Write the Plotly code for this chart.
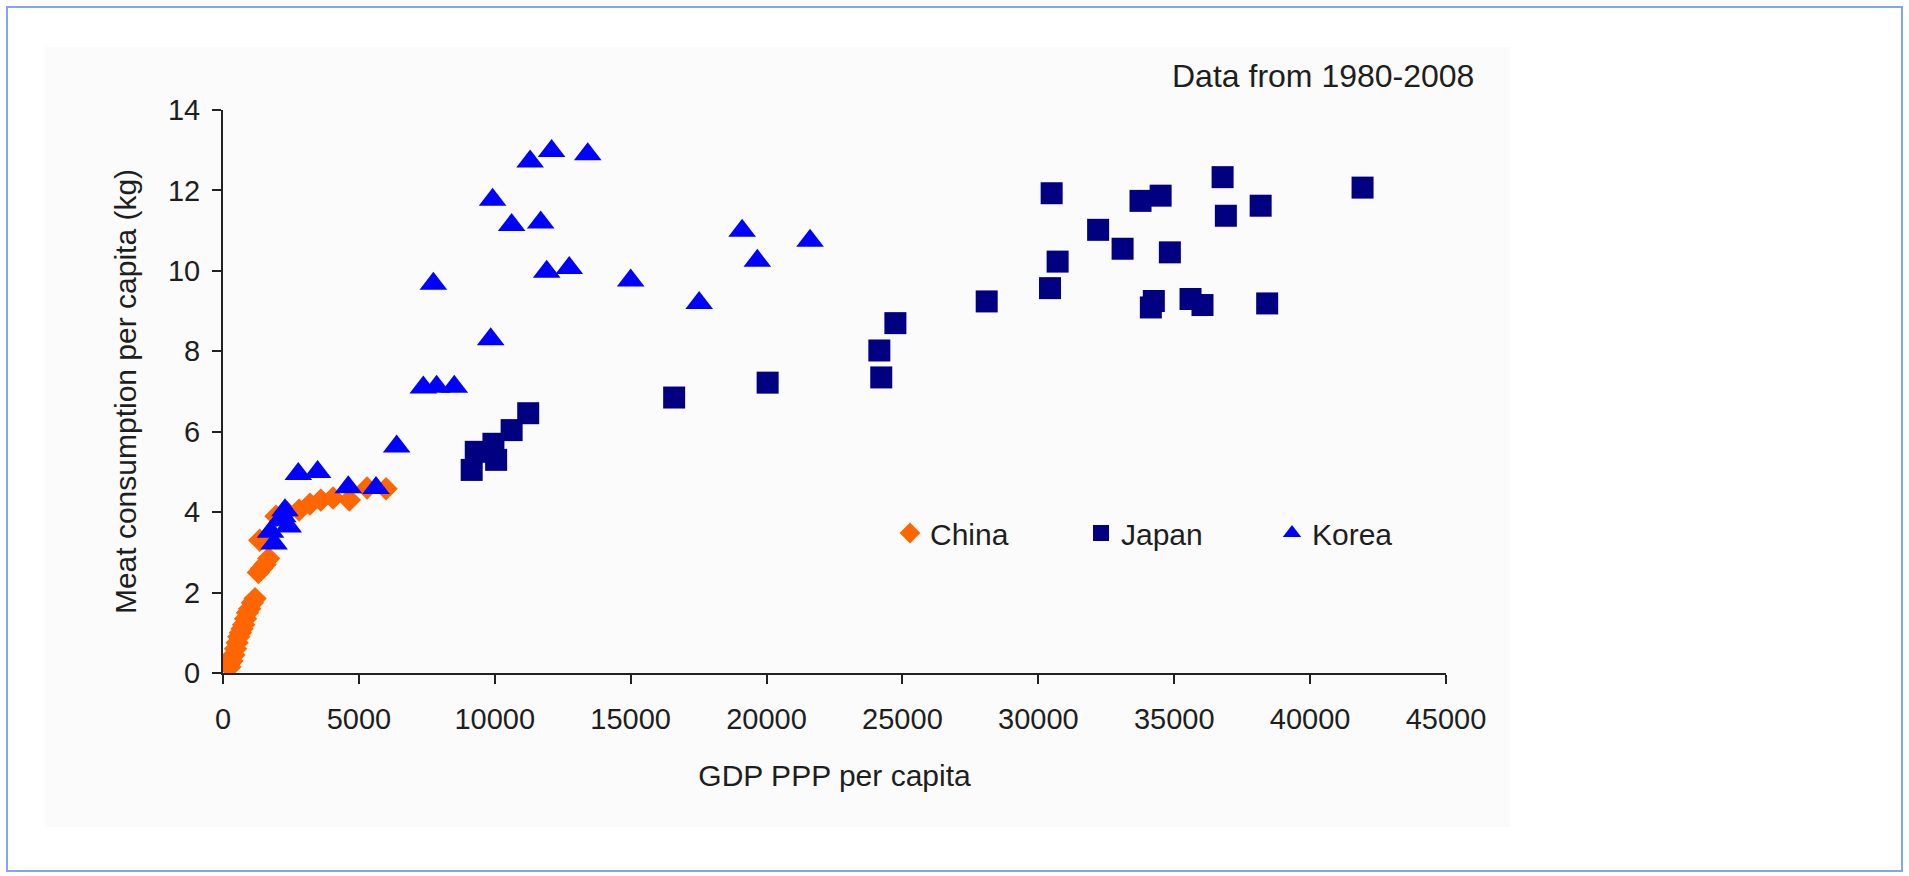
import plotly.graph_objects as go

# ---- data ----
china_gdp = [150, 250, 330, 400, 460, 520, 580, 640, 700, 760, 830, 900, 980, 1080, 1180,
             1300, 1420, 1550, 1680, 1350, 1950, 2350, 2800, 3200, 3600, 4050, 4650, 5300, 6000]
china_meat = [0.25, 0.15, 0.3, 0.45, 0.6, 0.75, 0.9, 1.0, 1.1, 1.2, 1.35, 1.5, 1.6, 1.75, 1.85,
              2.5, 2.6, 2.7, 2.85, 3.3, 3.9, 4.0, 4.05, 4.2, 4.3, 4.35, 4.3, 4.6, 4.58]

japan_gdp = [9150, 9300, 9950, 10050, 10620, 11230, 16600, 20040, 24150, 24220, 24740, 28100,
             30430, 30490, 30710, 32200, 33100, 33760, 34500, 34840, 34140, 34250, 35600, 36040,
             36780, 36900, 38180, 38420, 41930]
japan_meat = [5.05, 5.5, 5.7, 5.3, 6.04, 6.46, 6.85, 7.22, 8.02, 7.35, 8.7, 9.24,
              9.57, 11.93, 10.23, 11.02, 10.55, 11.74, 11.87, 10.46, 9.09, 9.25, 9.3, 9.15,
              12.33, 11.37, 11.62, 9.19, 12.07]

korea_gdp = [1750, 1880, 2100, 2280, 2400, 2200, 2770, 3480, 4610, 5630, 6390, 7370, 7860, 8510,
             7740, 9850, 9920, 10620, 11690, 11300, 12090, 13420, 11910, 12740, 15000, 17520,
             19100, 19660, 21600]
korea_meat = [3.51, 3.22, 3.8, 4.05, 3.64, 3.9, 4.95, 5.0, 4.62, 4.6, 5.63, 7.1, 7.12, 7.12,
              9.68, 8.3, 11.77, 11.14, 11.2, 12.72, 12.98, 12.9, 9.98, 10.07, 9.76, 9.2,
              11.0, 10.25, 10.75]

x_ticks = [0, 5000, 10000, 15000, 20000, 25000, 30000, 35000, 40000, 45000]
y_ticks = [0, 2, 4, 6, 8, 10, 12, 14]

x_title = "GDP PPP per capita"
y_title = "Meat consumption per capita (kg)"
note_text = "Data from 1980-2008"

# ---- layout geometry (pixels) ----
W, H = 1909, 876
L, R, T, B = 223, 1446, 110, 673   # plot area edges
PW, PH = R - L, B - T


def px(xp):
    return (xp - L) / PW


def py(yp):
    return (B - yp) / PH


FONT = "Liberation Sans, Arial, sans-serif"
TXT = "#1e1e1e"

fig = go.Figure()
fig.add_trace(go.Scatter(x=china_gdp, y=china_meat, mode="markers", name="China",
                         marker=dict(symbol="diamond", size=18, color="#FF6600",
                                     line=dict(width=0))))
fig.add_trace(go.Scatter(x=japan_gdp, y=japan_meat, mode="markers", name="Japan",
                         marker=dict(symbol="square", size=22, color="#000080",
                                     line=dict(width=0))))
fig.add_trace(go.Scatter(x=korea_gdp, y=korea_meat, mode="markers", name="Korea",
                         marker=dict(symbol="triangle-up", size=24, color="#0000FF",
                                     line=dict(width=0))))

axis_common = dict(showgrid=False, zeroline=False, showline=True, linecolor="#222222",
                   linewidth=2, ticks="outside", ticklen=9, tickwidth=2, tickcolor="#222222",
                   tickfont=dict(family=FONT, size=29, color=TXT))

fig.update_xaxes(range=[0, 45000], tickvals=x_ticks, tickformat="d", ticklabelstandoff=10,
                 title=dict(text=x_title, font=dict(family=FONT, size=30, color=TXT), standoff=31),
                 **axis_common)
fig.update_yaxes(range=[0, 14], tickvals=y_ticks, ticklabelstandoff=6,
                 title=dict(text=y_title, font=dict(family=FONT, size=30, color=TXT), standoff=22),
                 **axis_common)

fig.update_layout(
    width=W, height=H,
    margin=dict(l=L, r=W - R, t=T, b=H - B, pad=0),
    paper_bgcolor="white",
    plot_bgcolor="rgba(0,0,0,0)",
    font=dict(family=FONT, color=TXT),
    showlegend=True,
    legend=dict(orientation="h", x=px(890), xanchor="left", y=py(533), yanchor="middle",
                bgcolor="rgba(0,0,0,0)", borderwidth=0, entrywidth=146,
                font=dict(family=FONT, size=30, color=TXT)),
    shapes=[
        dict(type="rect", xref="paper", yref="paper", x0=px(45), x1=px(1510), y0=py(827), y1=py(47),
             fillcolor="#fbfbfb", line=dict(width=0), layer="below"),
        dict(type="rect", xref="paper", yref="paper", x0=px(7), x1=px(1902), y0=py(871), y1=py(7),
             fillcolor="rgba(0,0,0,0)", line=dict(color="#7fa6ee", width=2), layer="above"),
    ],
    annotations=[
        dict(text=note_text, xref="paper", yref="paper", x=px(1476), y=py(76),
             xanchor="right", yanchor="middle", showarrow=False,
             font=dict(family=FONT, size=32, color=TXT)),
    ],
)

fig.write_html("out.html", config={"displayModeBar": False},
               post_script="document.body.style.margin='0';document.body.style.overflow='hidden';")
